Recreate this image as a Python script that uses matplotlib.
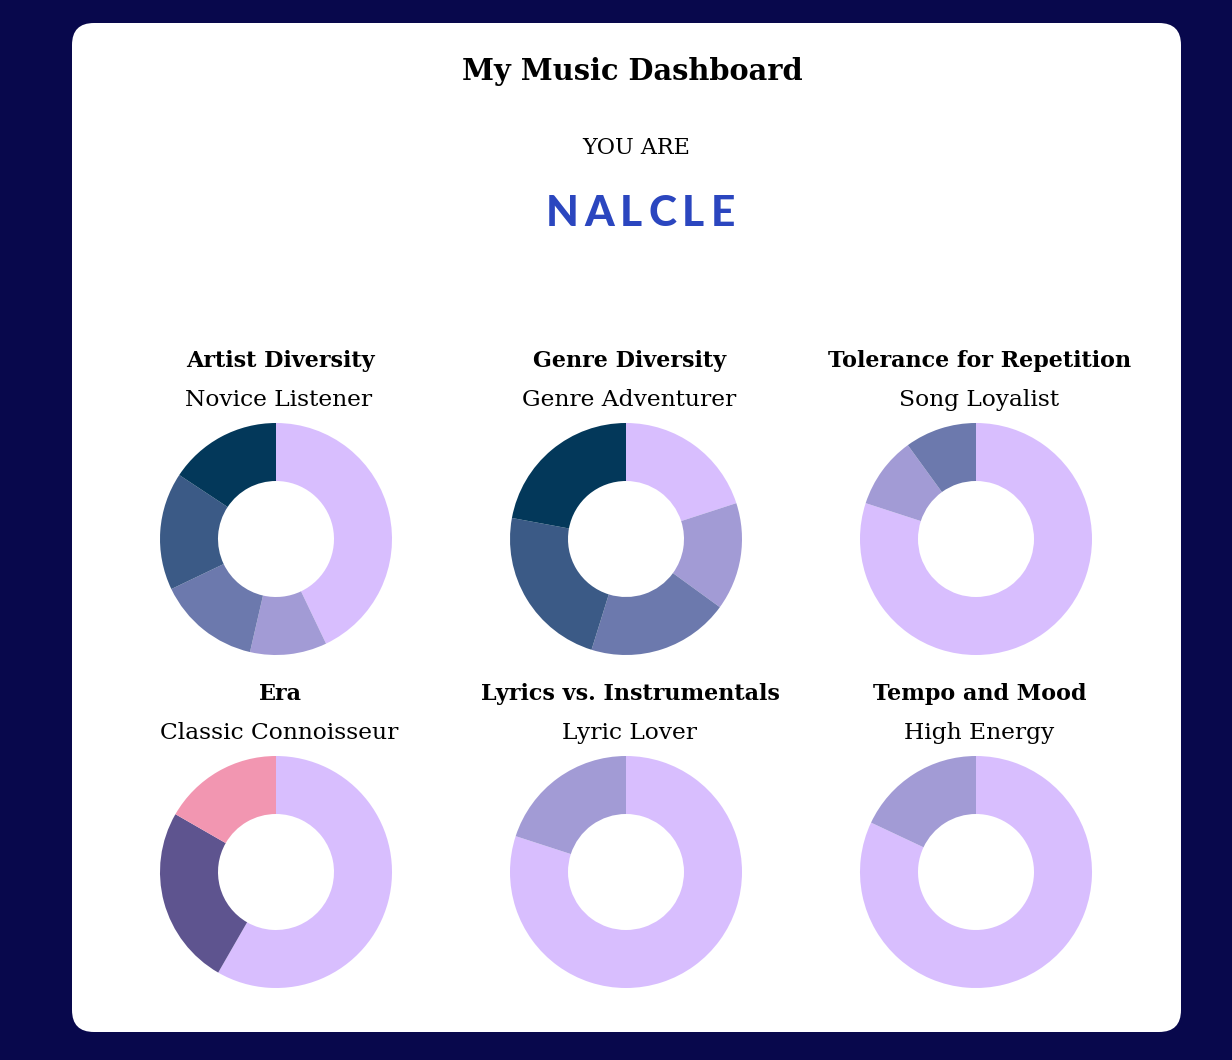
import matplotlib.pyplot as plt
from matplotlib.patches import FancyBboxPatch

W, H = 1232, 1060

# ---- data ----
chart_titles = ['Artist Diversity', 'Genre Diversity', 'Tolerance for Repetition',
                'Era', 'Lyrics vs. Instrumentals', 'Tempo and Mood']
chart_labels = ['Novice Listener', 'Genre Adventurer', 'Song Loyalist',
                'Classic Connoisseur', 'Lyric Lover', 'High Energy']
artist_vals = [42.9, 10.7, 14.3, 16.4, 15.7]
genre_vals = [20.0, 15.0, 19.8, 23.1, 22.1]
repeat_vals = [80, 10, 10]
era_vals = [58.3, 25.0, 16.7]
lyrics_vals = [80, 20]
tempo_vals = [82, 18]
all_vals = [artist_vals, genre_vals, repeat_vals, era_vals, lyrics_vals, tempo_vals]

seq_colors = ['#D8BEFE', '#A29BD5', '#6C79AD', '#3B5A86', '#03385A']
era_colors = ['#D8BEFE', '#5E548F', '#F296B1']
all_colors = [seq_colors, seq_colors, ['#D8BEFE', '#A29BD5', '#6C79AD'],
              era_colors, ['#D8BEFE', '#A29BD5'], ['#D8BEFE', '#A29BD5']]

persona = 'NALCLE'

SERIF = 'DejaVu Serif'

fig = plt.figure(figsize=(W / 100, H / 100), dpi=100)
fig.patch.set_facecolor('#08084C')

# background canvas in pixel coords
bg = fig.add_axes([0, 0, 1, 1])
bg.set_xlim(0, W)
bg.set_ylim(H, 0)
bg.axis('off')
card = FancyBboxPatch((72, 23), 1109, 1009, boxstyle='round,pad=0,rounding_size=22',
                      facecolor='white', edgecolor='none')
bg.add_patch(card)

bg.text(632, 72, 'My Music Dashboard', ha='center', va='center', fontsize=20.8,
        fontweight='bold', family=SERIF, color='black')
bg.text(636, 148, 'YOU ARE', ha='center', va='center', fontsize=16,
        family=SERIF, color='black')

# persona name with letter spacing: measure each glyph then lay them out
renderer = fig.canvas.get_renderer()
tracking = 6
letters = []
for ch in persona:
    t = bg.text(0, 214, ch, ha='left', va='center', fontsize=30.5, fontweight='black',
                family=['Lato', 'DejaVu Sans'], color='#2B46BF')
    w = t.get_window_extent(renderer).width
    letters.append((t, w))
total = sum(w for _, w in letters) + tracking * (len(letters) - 1)
x = 640 - total / 2
for t, w in letters:
    t.set_x(x)
    x += w + tracking

col_x = [276, 626, 976]
row_y = [539, 872]
R = 116

for i, (vals, cols) in enumerate(zip(all_vals, all_colors)):
    cx = col_x[i % 3]
    cy = row_y[i // 3]
    bg.text(cx + 4, cy - 178, chart_titles[i], ha='center', va='center', fontsize=16,
            fontweight='bold', family=SERIF, color='black')
    bg.text(cx + 3, cy - 139, chart_labels[i], ha='center', va='center', fontsize=16.8,
            family=SERIF, color='black')
    ax = fig.add_axes([(cx - R) / W, (H - cy - R) / H, 2 * R / W, 2 * R / H])
    ax.pie(vals, colors=cols, startangle=90, counterclock=False, radius=1,
           wedgeprops=dict(width=0.5, edgecolor='none'))
    ax.set_xlim(-1, 1)
    ax.set_ylim(-1, 1)
    ax.set_aspect('equal')
    ax.axis('off')

fig.savefig('out.png', dpi=100, facecolor=fig.get_facecolor())
